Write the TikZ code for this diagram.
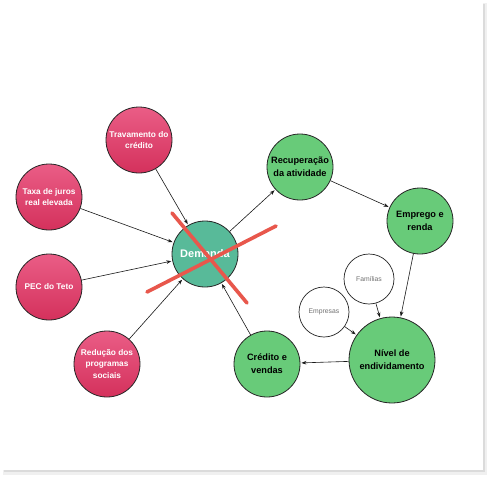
\documentclass[tikz,border=0pt]{standalone}
\usepackage{fontspec}
\setmainfont{Liberation Sans}
\usetikzlibrary{arrows.meta, positioning, shadings}

\definecolor{pinktop}{HTML}{EA5D86}
\definecolor{pinkbot}{HTML}{D4315C}
\definecolor{greenball}{HTML}{68CB79}
\definecolor{tealball}{HTML}{58BA99}
\definecolor{crossred}{HTML}{E8574C}
\definecolor{smallgray}{HTML}{707070}

\begin{document}
\begin{tikzpicture}[
        x=1pt, y=-1pt,
        pink_ball/.style={
            circle, draw=black!85, line width=0.8pt, minimum size=66pt, inner sep=0pt,
            top color=pinktop, bottom color=pinkbot, text=white, align=center,
            font=\bfseries\fontsize{8.3}{11.5}\selectfont
        },
        green_ball/.style={
            circle, draw=black!85, line width=0.8pt, minimum size=66pt, inner sep=0pt,
            fill=greenball, text=black, align=center,
            font=\bfseries\fontsize{9.2}{13.3}\selectfont
        },
        small_ball/.style={
            circle, draw=black!85, line width=0.7pt, minimum size=50pt, inner sep=0pt,
            fill=white, text=smallgray, font=\fontsize{6.8}{8}\selectfont
        },
        link/.style={
            draw=black!90, line width=0.6pt, shorten >=1pt,
            -{Stealth[length=5pt, width=3.6pt]}
        },
        cross_line/.style={
            draw=crossred, line width=3.6pt, line cap=round
        }
    ]

    % Card and its shadow
    \useasboundingbox (0,0) rectangle (488,477);
    \fill[black!6] (3,3) rectangle (487,475);
    \fill[black!14] (4,4) rectangle (485,472);
    \fill[white] (0,0) rectangle (483,470);

    % Define the circles
    \node[pink_ball] (trav) at (139,140) {Travamento do\\crédito};
    \node[pink_ball] (taxa) at (49,197) {Taxa de juros\\real elevada};
    \node[pink_ball] (pec) at (49,287) {PEC do Teto};
    \node[pink_ball] (red) at (107,364) {Redução dos\\programas\\sociais};
    \node[circle, draw=black!85, line width=0.8pt, minimum size=66pt, inner sep=0pt,
          fill=tealball, text=white, font=\bfseries\fontsize{11}{13}\selectfont] (dem) at (205,254) {Demanda};
    \node[green_ball] (rec) at (300,167) {Recuperação\\da atividade};
    \node[green_ball] (emp) at (420,221) {Emprego e\\renda};
    \node[green_ball, minimum size=86pt] (niv) at (392,360) {Nível de\\endividamento};
    \node[green_ball] (cre) at (267,364) {Crédito e\\vendas};
    \node[small_ball] (fam) at (369,279) {Famílias};
    \node[small_ball] (empr) at (324,312) {Empresas};

    % Connectors
    \draw[link] (trav) -- (dem);
    \draw[link] (taxa) -- (dem);
    \draw[link] (pec) -- (dem);
    \draw[link] (red) -- (dem);
    \draw[link] (dem) -- (rec);
    \draw[link] (rec) -- (emp);
    \draw[link] (emp) -- (niv);
    \draw[link] (niv) -- (cre);
    \draw[link] (cre) -- (dem);
    \draw[link] (fam) -- (niv);
    \draw[link] (empr) -- (niv);

    % The cross over Demanda
    \draw[cross_line] (172,213) -- (247,303);
    \draw[cross_line] (147,292) -- (276,226);

\end{tikzpicture}
\end{document}
